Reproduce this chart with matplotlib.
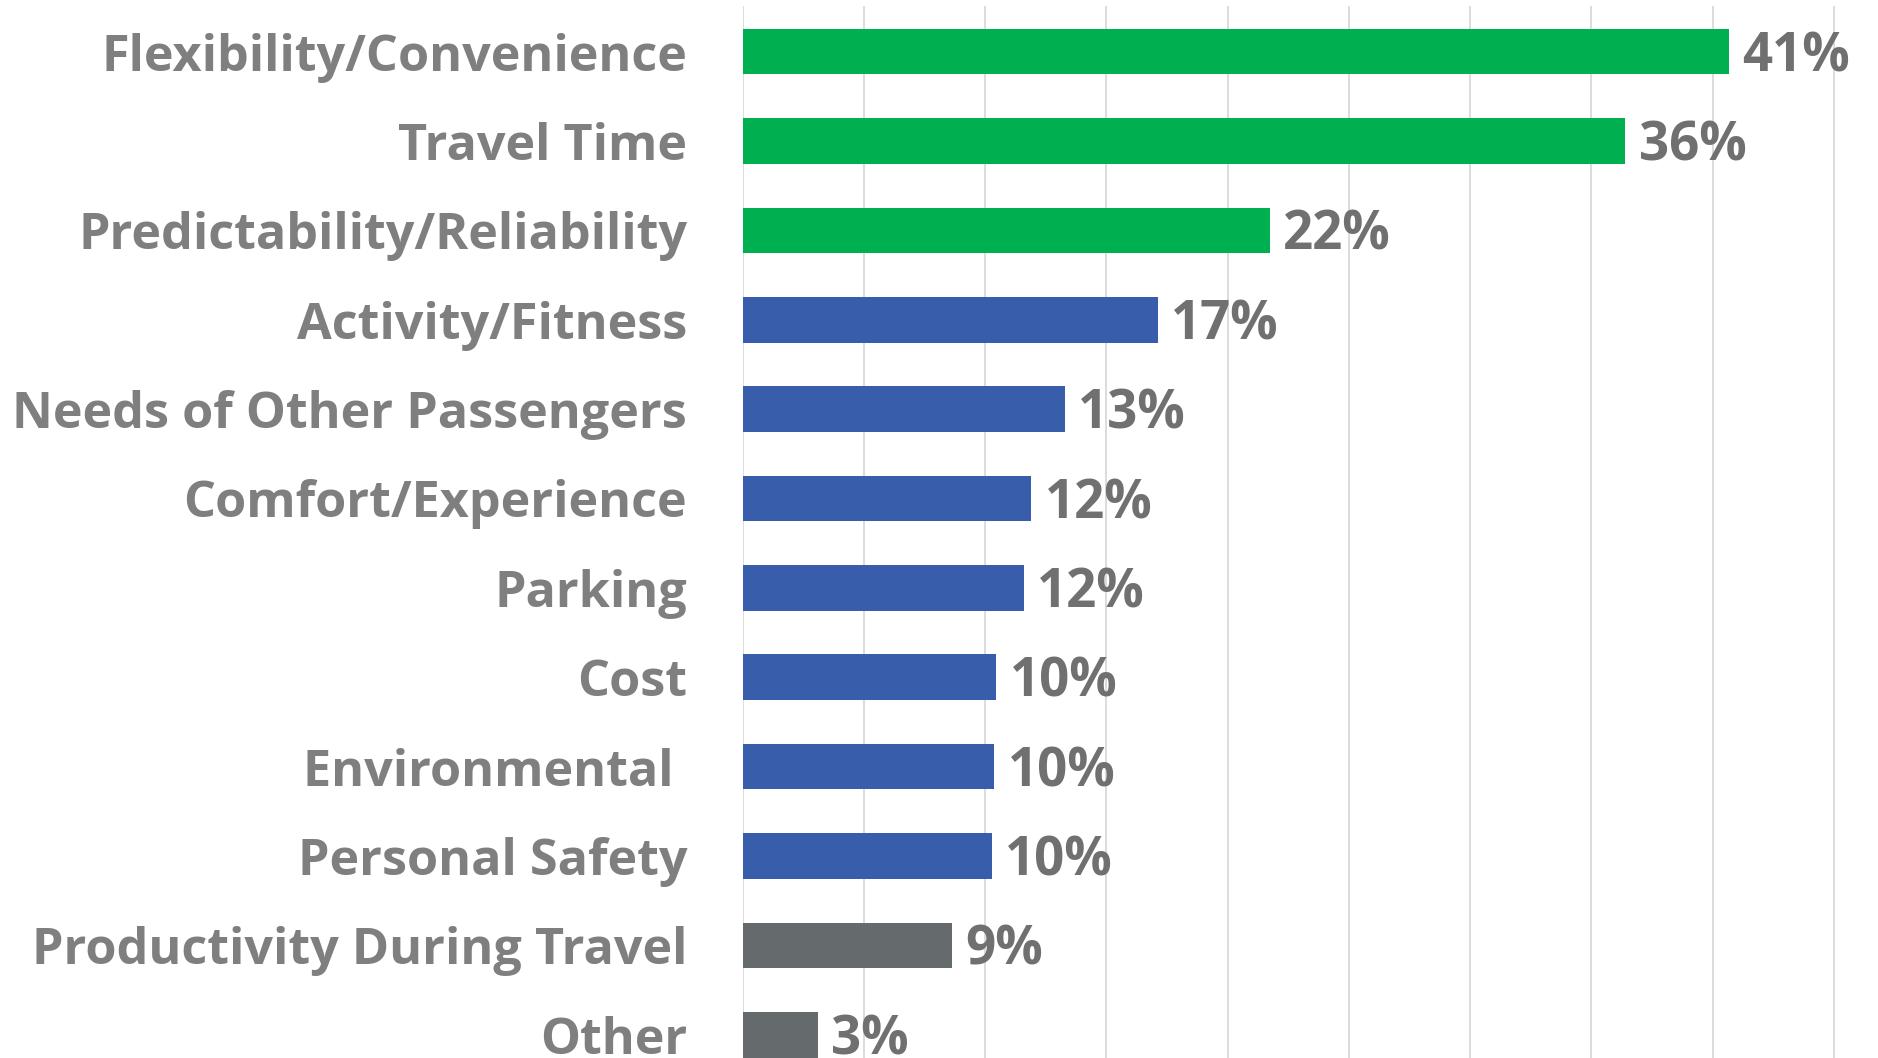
import matplotlib
matplotlib.use("Agg")
import matplotlib.pyplot as plt

categories = ["Flexibility/Convenience", "Travel Time", "Predictability/Reliability",
              "Activity/Fitness", "Needs of Other Passengers", "Comfort/Experience",
              "Parking", "Cost", "Environmental ", "Personal Safety",
              "Productivity During Travel", "Other"]
values = [40.66, 36.41, 21.74, 17.14, 13.29, 11.91, 11.61, 10.47, 10.38, 10.28, 8.65, 3.11]
value_labels = ["41%", "36%", "22%", "17%", "13%", "12%", "12%", "10%", "10%", "10%", "9%", "3%"]
groups = ["top", "top", "top", "mid", "mid", "mid", "mid", "mid", "mid", "mid", "low", "low"]
group_colors = {"top": "#00B050", "mid": "#385DAA", "low": "#656A6C"}

plt.rcParams['font.family'] = ['Open Sans', 'DejaVu Sans']

W, H = 1878, 1058
fig = plt.figure(figsize=(W / 100, H / 100), dpi=100)
left = 742.6 / W
x50 = 1955.0 / W
ax = fig.add_axes([left, 0.0, x50 - left, 1 - 6 / H])

y = list(range(len(categories)))
colors = [group_colors[g] for g in groups]
ax.barh(y, values, height=0.51, color=colors, zorder=3)

ax.set_xlim(0, 50)
ax.set_ylim(11.26, -0.51)
ax.set_xticks(range(0, 50, 5))
ax.xaxis.grid(True, color="#D9D9D9", linewidth=1.3, zorder=0)
ax.tick_params(axis="x", length=0, labelbottom=False)
ax.tick_params(axis="y", length=0, pad=40)
for s in ax.spines.values():
    s.set_visible(False)

ax.set_yticks(y)
ax.set_yticklabels(categories, fontsize=36.3, fontweight="bold", color="#7F7F7F")

for yi, v, lab in zip(y, values, value_labels):
    ax.annotate(lab, (v, yi), xytext=(9.5, -4), textcoords="offset points",
                ha="left", va="center", fontsize=38, fontweight="bold",
                color="#707070", clip_on=False, annotation_clip=False)

fig.savefig("out.png", dpi=100)
